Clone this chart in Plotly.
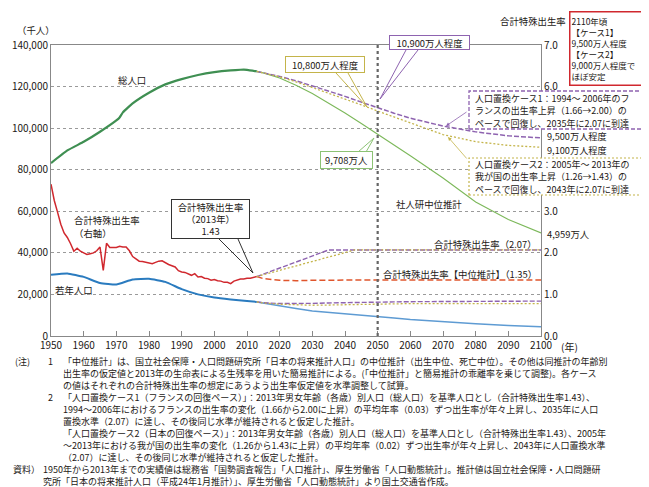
import plotly.graph_objects as go

# ---------------- data ----------------
tfr_years = list(range(1950, 2014))
tfr_actual = [3.65, 3.26, 2.98, 2.69, 2.48, 2.37, 2.22, 2.04, 2.11, 2.04,
              2.00, 1.96, 1.98, 2.00, 2.05, 2.14, 1.58, 2.23, 2.13, 2.13,
              2.13, 2.16, 2.14, 2.14, 2.05, 1.91, 1.85, 1.80, 1.79, 1.77,
              1.75, 1.74, 1.77, 1.80, 1.81, 1.76, 1.72, 1.69, 1.66, 1.57,
              1.54, 1.53, 1.50, 1.46, 1.50, 1.42, 1.43, 1.39, 1.38, 1.34,
              1.36, 1.33, 1.32, 1.29, 1.29, 1.26, 1.32, 1.34, 1.37, 1.37,
              1.39, 1.39, 1.41, 1.43]

pop_years = [1950, 1955, 1960, 1965, 1970, 1971, 1972, 1975, 1980, 1985,
             1990, 1995, 2000, 2005, 2008, 2010, 2013]
pop_actual = [83200, 89276, 93419, 98275, 103720, 105145, 107595, 111940,
              117060, 121049, 123611, 125570, 126926, 127768, 128084, 128057, 127298]

young_years = [1950, 1955, 1960, 1965, 1970, 1975, 1980, 1985, 1990, 1995,
               2000, 2005, 2010, 2013]
young_actual = [29430, 30120, 28430, 25530, 24820, 27220, 27520, 26030,
                22540, 20040, 18510, 17590, 16840, 16390]

proj_years = [2013, 2015, 2020, 2025, 2030, 2035, 2040, 2045, 2050, 2055,
              2060, 2070, 2080, 2090, 2100]
pop_medium = [127298, 126597, 124100, 120659, 116618, 112124, 107276, 102210,
              97076, 91933, 86737, 76000, 64500, 56000, 49590]
pop_case1 = [127298, 126700, 124900, 122800, 120300, 117900, 115300, 112500,
             109800, 107200, 104800, 101000, 98200, 96300, 95300]
pop_case2 = [127298, 126600, 124700, 122300, 119600, 116900, 114000, 111200,
             108200, 105300, 102400, 96900, 93500, 91700, 90800]
young_medium = [16390, 15830, 14568, 13240, 12039, 11287, 10732, 10116, 9387,
                8614, 7912, 6800, 5900, 5100, 4400]
young_case1 = [16390, 16000, 15600, 15500, 15700, 15900, 16100, 16200, 16300,
               16400, 16500, 16550, 16600, 16700, 16800]
young_case2 = [16390, 15900, 15300, 14900, 14800, 14900, 15100, 15300, 15500,
               15550, 15600, 15600, 15600, 15600, 15600]

tfr_med_years = [2013, 2015, 2020, 2025, 2030, 2040, 2050, 2060, 2100]
tfr_medium = [1.43, 1.38, 1.34, 1.33, 1.34, 1.35, 1.35, 1.35, 1.35]
tfr_c1_years = [2013, 2035, 2100]
tfr_case1 = [1.43, 2.07, 2.07]
tfr_c2_years = [2013, 2043, 2100]
tfr_case2 = [1.43, 2.07, 2.07]

x_ticks = list(range(1950, 2101, 10))
y_ticks = list(range(0, 140001, 20000))
y_ticktext = ["0"] + [f"{v:,}" for v in y_ticks[1:]]
y2_ticks = [0, 1, 2, 3, 6, 7]
y2_ticktext = [f"{v:.1f}" for v in y2_ticks]

# ---------------- style ----------------
FONT = "Noto Sans CJK JP"
TXT = "#231815"
GREEN = "#3f8f52"
GREEN2 = "#7cb85a"
PURPLE = "#8e63b0"
OLIVE = "#c4b44a"
BLUE = "#2a7bbf"
BLUE2 = "#5e9bd3"
RED = "#d0282e"
ORANGE = "#e0552c"

L, T, W, H = 43, 37, 490, 291
FW, FH = 649, 487
TS = 9.4   # chart annotation font size


def px(x):
    return (x - L) / W


def py(y):
    return (T + H - y) / H


fig = go.Figure()

# population (left axis)
fig.add_trace(go.Scatter(x=pop_years, y=pop_actual, mode="lines",
                         line=dict(color=GREEN, width=2.2, shape="spline", smoothing=0.3)))
fig.add_trace(go.Scatter(x=proj_years, y=pop_medium, mode="lines",
                         line=dict(color=GREEN2, width=1.1)))
fig.add_trace(go.Scatter(x=proj_years, y=pop_case1, mode="lines",
                         line=dict(color=PURPLE, width=1.5, dash="5px,2px")))
fig.add_trace(go.Scatter(x=proj_years, y=pop_case2, mode="lines",
                         line=dict(color=OLIVE, width=1.3, dash="2px,2px")))
fig.add_trace(go.Scatter(x=young_years, y=young_actual, mode="lines",
                         line=dict(color=BLUE, width=2, shape="spline", smoothing=0.4)))
fig.add_trace(go.Scatter(x=proj_years, y=young_medium, mode="lines",
                         line=dict(color=BLUE2, width=1.5)))
fig.add_trace(go.Scatter(x=proj_years, y=young_case1, mode="lines",
                         line=dict(color=PURPLE, width=1.4, dash="5px,2px")))
fig.add_trace(go.Scatter(x=proj_years, y=young_case2, mode="lines",
                         line=dict(color=OLIVE, width=1.3, dash="2px,2px")))

# TFR (right axis)
fig.add_trace(go.Scatter(x=tfr_years, y=tfr_actual, mode="lines", yaxis="y2",
                         line=dict(color=RED, width=1.5)))
fig.add_trace(go.Scatter(x=tfr_med_years, y=tfr_medium, mode="lines", yaxis="y2",
                         line=dict(color=ORANGE, width=1.5, dash="6px,3px")))
fig.add_trace(go.Scatter(x=tfr_c1_years, y=tfr_case1, mode="lines", yaxis="y2",
                         line=dict(color=PURPLE, width=1.4, dash="5px,2px")))
fig.add_trace(go.Scatter(x=tfr_c2_years, y=tfr_case2, mode="lines", yaxis="y2",
                         line=dict(color=OLIVE, width=1.3, dash="2px,2px")))

shapes = []
# 2050 vertical dotted line
shapes.append(dict(type="line", xref="x", yref="paper", x0=2050, x1=2050, y0=0, y1=1,
                   line=dict(color="#666", width=2.2, dash="dot"), layer="above"))

# dashed boxes for case 1 / case 2
shapes.append(dict(type="rect", xref="paper", yref="paper",
                   x0=px(461), x1=px(638), y0=py(121), y1=py(83),
                   line=dict(color=PURPLE, width=1.3, dash="4px,2px"), fillcolor="white", layer="above"))
shapes.append(dict(type="rect", xref="paper", yref="paper",
                   x0=px(461), x1=px(645), y0=py(187), y1=py(150),
                   line=dict(color=OLIVE, width=1.2, dash="2px,2px"), fillcolor="white", layer="above"))


def wedge(p1, tip, p2, color):
    path = "M {} {} L {} {} L {} {}".format(px(p1[0]), py(p1[1]), px(tip[0]), py(tip[1]),
                                            px(p2[0]), py(p2[1]))
    return dict(type="path", xref="paper", yref="paper", path=path,
                line=dict(color=color, width=1), layer="above")


shapes.append(wedge((398, 42), (372, 91), (410, 42), PURPLE))
shapes.append(wedge((328, 65), (359, 99), (340, 65), OLIVE))
shapes.append(wedge((350, 144), (366, 130), (358, 144), "#8cc274"))
shapes.append(wedge((211, 231), (245, 265), (230, 231), "#333"))

ann = []


def text(x, y, s, size=TS, xanchor="center", align="left", color=TXT):
    ann.append(dict(xref="paper", yref="paper", x=px(x), y=py(y), text=s, showarrow=False,
                    xanchor=xanchor, yanchor="middle", align=align,
                    font=dict(family=FONT, size=size, color=color)))


def box(x0, x1, y0, y1, s, border, size=TS, align="center", bw=1):
    ann.append(dict(xref="paper", yref="paper", x=px((x0 + x1) / 2), y=py((y0 + y1) / 2),
                    text=s, showarrow=False, xanchor="center", yanchor="middle",
                    width=x1 - x0 - 2 * bw - 2, height=y1 - y0 - 2 * bw - 2, align=align,
                    bordercolor=border, borderwidth=bw, borderpad=1, bgcolor="white",
                    font=dict(family=FONT, size=size, color=TXT)))


text(28, 22, "（千人）")
text(525, 13, "合計特殊出生率")
text(124, 72, "総人口")
text(421, 196, "社人研中位推計")
text(537, 128, "9,500万人程度", size=9.2, xanchor="left")
text(537, 142, "9,100万人程度", size=9.2, xanchor="left")
text(537, 226, "4,959万人", xanchor="left")
text(531, 236, "合計特殊出生率（2.07）", xanchor="right")
text(531, 266, "合計特殊出生率【中位推計】（1.35）", xanchor="right")
text(64, 212, "合計特殊出生率", xanchor="left")
text(64, 225, "（右軸）", xanchor="left")
text(45, 282, "若年人口", xanchor="left")
text(561, 338, "(年)", size=10)

box(381, 462, 27, 42, "10,900万人程度", PURPLE)
box(277, 357, 48, 65, "10,800万人程度", OLIVE)
box(312, 365, 143, 161, "9,708万人", "#8cc274")
box(163, 242, 191, 231, "合計特殊出生率<br>（2013年）<br>1.43", "#333")
box(561, 645, 3, 78, "2110年頃<br>【ケース1】<br>9,500万人程度<br>【ケース2】<br>9,000万人程度で<br>ほぼ安定",
    RED, size=8.5, align="left", bw=1.5)

cs = 9.0
text(465, 90, "人口置換ケース1：1994～ 2006年のフ", size=cs, xanchor="left")
text(465, 102, "ランスの出生率上昇（1.66→2.00）の", size=cs, xanchor="left")
text(465, 115, "ペースで回復し、2035年に2.07に到達", size=cs, xanchor="left")
text(465, 156, "人口置換ケース2：2005年～ 2013年の", size=cs, xanchor="left")
text(465, 168, "我が国の出生率上昇（1.26→1.43）の", size=cs, xanchor="left")
text(465, 181, "ペースで回復し、2043年に2.07に到達", size=cs, xanchor="left")

# arrows from case boxes
ann.append(dict(xref="paper", yref="paper", x=px(438), y=py(118), ax=22, ay=-15, text="",
                showarrow=True, arrowhead=2, arrowsize=0.9, arrowwidth=0.8, arrowcolor=PURPLE))
ann.append(dict(xref="paper", yref="paper", x=px(440), y=py(129), ax=20, ay=23, text="",
                showarrow=True, arrowhead=2, arrowsize=0.9, arrowwidth=0.8, arrowcolor=OLIVE))

# notes
NS = 9.0
y0n = 353
dy = 12.0
note_lines = [
    (53, "「中位推計」は、国立社会保障・人口問題研究所「日本の将来推計人口」の中位推計（出生中位、死亡中位）。その他は同推計の年齢別"),
    (53, "出生率の仮定値と2013年の生命表による生残率を用いた簡易推計による。(「中位推計」と簡易推計の乖離率を乗じて調整)。各ケース"),
    (53, "の値はそれぞれの合計特殊出生率の想定にあうよう出生率仮定値を水準調整して試算。"),
    (53, "「人口置換ケース1（フランスの回復ペース）」：2013年男女年齢（各歳）別人口（総人口）を基準人口とし（合計特殊出生率1.43）、"),
    (53, "1994～2006年におけるフランスの出生率の変化（1.66から2.00に上昇）の平均年率（0.03）ずつ出生率が年々上昇し、2035年に人口"),
    (53, "置換水準（2.07）に達し、その後同じ水準が維持されると仮定した推計。"),
    (53, "「人口置換ケース2（日本の回復ペース）」：2013年男女年齢（各歳）別人口（総人口）を基準人口とし（合計特殊出生率1.43）、2005年"),
    (53, "～2013年における我が国の出生率の変化（1.26から1.43に上昇）の平均年率（0.02）ずつ出生率が年々上昇し、2043年に人口置換水準"),
    (53, "（2.07）に達し、その後同じ水準が維持されると仮定した推計。"),
    (33, "1950年から2013年までの実績値は総務省「国勢調査報告」「人口推計」、厚生労働省「人口動態統計」。推計値は国立社会保障・人口問題研"),
    (33, "究所「日本の将来推計人口（平成24年1月推計）」、厚生労働省「人口動態統計」より国土交通省作成。"),
]
for i, (x, s) in enumerate(note_lines):
    text(x, y0n + i * dy, s, size=NS, xanchor="left")
text(5, y0n, "(注)", size=NS, xanchor="left")
text(38, y0n, "1", size=NS, xanchor="left")
text(38, y0n + 3 * dy, "2", size=NS, xanchor="left")
text(3, y0n + 9 * dy, "資料）", size=NS, xanchor="left")

tickfont = dict(size=10, family=FONT, color=TXT)
fig.update_layout(
    width=FW, height=FH,
    margin=dict(l=L, r=FW - L - W, t=T, b=FH - T - H, autoexpand=False),
    paper_bgcolor="white", plot_bgcolor="white",
    showlegend=False,
    font=dict(family=FONT, color=TXT),
    xaxis=dict(range=[1950, 2100], tickvals=x_ticks, ticks="inside", ticklen=5,
               tickcolor="#888", showline=True, linecolor="#888", linewidth=1, mirror=True,
               showgrid=False, zeroline=False, tickfont=tickfont, automargin=False),
    yaxis=dict(range=[0, 140000], tickvals=y_ticks, ticktext=y_ticktext, showline=True,
               linecolor="#888", linewidth=1, showgrid=True, gridcolor="#9a9a9a", griddash="dot",
               gridwidth=1, zeroline=False, ticks="", tickfont=tickfont, automargin=False),
    yaxis2=dict(range=[0, 7], tickvals=y2_ticks, ticktext=y2_ticktext, overlaying="y",
                side="right", showline=True, linecolor="#888", linewidth=1, showgrid=False,
                zeroline=False, ticks="", tickfont=tickfont, automargin=False),
    shapes=shapes,
    annotations=ann,
)

fig.write_html("out.html")
